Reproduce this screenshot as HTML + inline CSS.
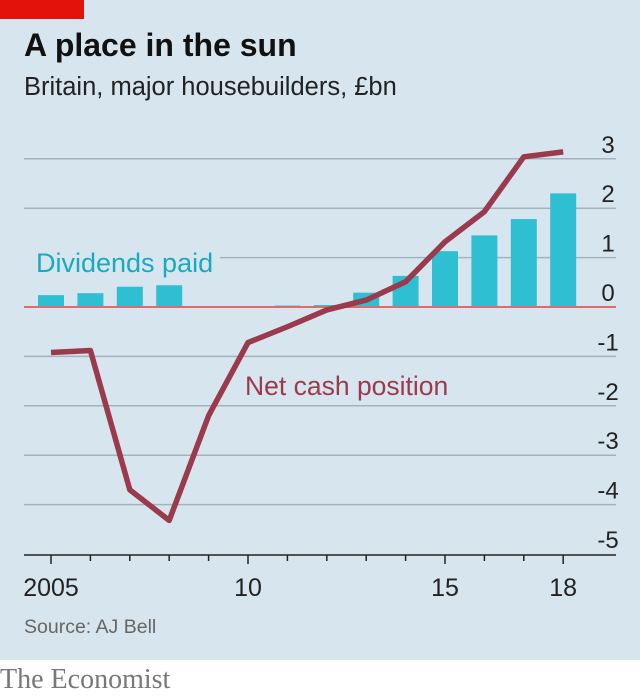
<!DOCTYPE html>
<html><head><meta charset="utf-8"><style>
body{margin:0;width:640px;height:697px;background:#fff;font-family:"Liberation Sans",sans-serif;overflow:hidden}
#panel{position:absolute;left:0;top:0;width:640px;height:660px;background:#d7e6ee}
#redbox{position:absolute;left:0;top:0;width:84px;height:19px;background:#e3120b}
#title{position:absolute;left:24px;top:27px;font-size:32px;font-weight:bold;color:#111}
#sub{position:absolute;left:24px;top:73px;font-size:25.5px;color:#222}
#src{position:absolute;left:24px;top:616px;font-size:19.5px;color:#666}
#brand{position:absolute;left:0px;top:664px;font-family:"Liberation Serif",serif;font-size:28px;color:#777}
svg{position:absolute;left:0;top:0}
</style></head><body>
<div id="panel"></div>
<div id="redbox"></div>
<div id="title">A place in the sun</div>
<div id="sub">Britain, major housebuilders, £bn</div>
<svg id="chart" width="640" height="697"></svg>
<div id="src">Source: AJ Bell</div>
<div id="brand">The Economist</div>
<script>
const years=[2005,2006,2007,2008,2009,2010,2011,2012,2013,2014,2015,2016,2017,2018];
const dividends=[0.24,0.28,0.41,0.44,0,0,0.03,0.04,0.29,0.63,1.13,1.45,1.78,2.3];
const netCash=[-0.92,-0.88,-3.7,-4.32,-2.2,-0.72,-0.4,-0.06,0.14,0.51,1.32,1.93,3.04,3.14];
const yTicks=[3,2,1,0,-1,-2,-3,-4,-5];
const yTickLabels=["3","2","1","0","-1","-2","-3","-4","-5"];
const xLabelYears=[2005,2010,2015,2018];
const xLabelText=["2005","10","15","18"];
const NS="http://www.w3.org/2000/svg";
const svg=document.getElementById('chart');
const x=v=>51+(v-2005)*39.4;
const y=v=>307-v*49.4;
function mk(t,a){const e=document.createElementNS(NS,t);for(const k in a)e.setAttribute(k,a[k]);svg.appendChild(e);return e;}
yTicks.forEach((t,i)=>{
  if(t!==0&&t!==-5){const g=mk('line',{x1:t===1?220:24,x2:616,y1:y(t),y2:y(t),stroke:'#a3b3bd','stroke-width':1.5});
  
  }
  const l=mk('text',{x:608,y:y(t)-6,'font-size':24,'text-anchor':'middle',fill:'#222','font-family':'Liberation Sans, sans-serif'});
  l.textContent=yTickLabels[i];
  
  
});
dividends.forEach((d,i)=>{
  if(d<=0)return;
  const r=mk('rect',{x:x(years[i])-13,y:y(d),width:26,height:y(0)-y(d),fill:'#2ebfd3'});
  
  
});
const z=mk('line',{x1:24,x2:616,y1:y(0),y2:y(0),stroke:'#e36a6a','stroke-width':2});


const ax=mk('line',{x1:24,x2:616,y1:555,y2:555,stroke:'#222','stroke-width':1.5});


years.forEach(yr=>{
  const major=xLabelYears.includes(yr);
  const t=mk('line',{x1:x(yr),x2:x(yr),y1:555,y2:major?564:561,stroke:'#222','stroke-width':1.5});
  
  
});
xLabelYears.forEach((yr,i)=>{
  const l=mk('text',{x:x(yr),y:596,'font-size':25,'text-anchor':'middle',fill:'#222','font-family':'Liberation Sans, sans-serif'});
  l.textContent=xLabelText[i];
  
  
});
const p=mk('polyline',{points:netCash.map((v,i)=>x(years[i])+','+y(v)).join(' '),fill:'none',stroke:'#9b3a4c','stroke-width':5.5,'stroke-linejoin':'round'});


const dl=mk('text',{x:36,y:272,'font-size':27,fill:'#1aa9bf','font-family':'Liberation Sans, sans-serif'});
dl.textContent='Dividends paid';


const nl=mk('text',{x:245,y:395,'font-size':26.5,fill:'#9b3a4c','font-family':'Liberation Sans, sans-serif'});
nl.textContent='Net cash position';


</script>
</body></html>
